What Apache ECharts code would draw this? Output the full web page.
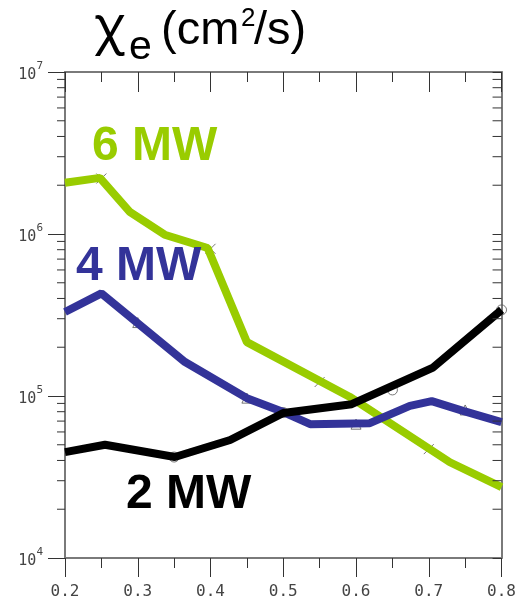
<!DOCTYPE html>
<html>
<head>
<meta charset="utf-8">
<script src="https://cdn.jsdelivr.net/npm/echarts@6/dist/echarts.min.js"></script>
<style>
  html, body { margin: 0; padding: 0; background: #ffffff; }
  #chart { width: 519px; height: 602px; }
</style>
</head>
<body>
<div id="chart"></div>
<script>
// Electron heat diffusivity vs. normalized radius for three heating powers
var seriesNames = ['6 MW', '4 MW', '2 MW'];

// line vertices: [rho, chi_e (cm^2/s)]
var chi6MW = [[0.2, 2.07e6], [0.248, 2.22e6], [0.289, 1.37e6], [0.337, 9.9e5], [0.396, 8.2e5],
              [0.45, 2.15e5], [0.591, 9.9e4], [0.729, 3.9e4], [0.8, 2.74e4]];
var chi4MW = [[0.2, 3.3e5], [0.25, 4.3e5], [0.365, 1.62e5], [0.45, 9.7e4], [0.5, 7.96e4],
              [0.537, 6.7e4], [0.619, 6.8e4], [0.674, 8.7e4], [0.704, 9.3e4], [0.747, 8.1e4], [0.8, 6.9e4]];
var chi2MW = [[0.2, 4.5e4], [0.255, 5.0e4], [0.351, 4.2e4], [0.427, 5.35e4], [0.5, 7.85e4],
              [0.594, 8.9e4], [0.705, 1.49e5], [0.8, 3.4e5]];

// sample markers sitting on each profile
var marks6MW = [[0.25, 2.2e6], [0.4, 8.1e5], [0.55, 1.22e5], [0.7, 4.7e4]];
var marks4MW = [[0.3, 2.84e5], [0.45, 9.7e4], [0.6, 6.7e4], [0.75, 8.2e4]];
var marks2MW = [[0.35, 4.2e4], [0.5, 7.9e4], [0.65, 1.09e5], [0.8, 3.4e5]];

// axis ranges and tick values
var xRange = [0.2, 0.8];
var xStep = 0.1;
var yRange = [1e4, 1e7];
var yMinorTicks = [];
[1e4, 1e5, 1e6].forEach(function (dec) {
  [2, 3, 4, 5, 6, 7, 8, 9].forEach(function (m) { yMinorTicks.push(m * dec); });
});

// title pieces: symbol, subscript, unit, superscript, rest of unit
var titleParts = ['χ', 'e', '(cm', '2', '/s)'];

var colors = ['#99cc00', '#333399', '#000000'];
var tickFont = 'DejaVu Sans Mono';
var axisGrey = '#7a7a7a';
var titleFont = '"Liberation Sans", Arial, sans-serif';
var greekFont = '"Noto Sans", sans-serif';

var chart = echarts.init(document.getElementById('chart'), null, { renderer: 'canvas' });

var crossPath = 'path://M0,0L10,10M10,0L0,10';

function markerSeries(data, symbol) {
  return {
    type: 'scatter',
    data: data,
    symbol: symbol,
    symbolSize: 10,
    itemStyle: { color: 'rgba(0,0,0,0)', borderColor: '#555', borderWidth: 1 },
    z: 1,
    silent: true
  };
}

function titleText(text, x, yMid, size, family) {
  return {
    type: 'text', z: 10, silent: true,
    style: {
      text: text, x: x, y: yMid, fill: '#000',
      font: size + 'px ' + (family || titleFont),
      textAlign: 'left', textVerticalAlign: 'middle'
    }
  };
}

function seriesLabel(text, x, top, color) {
  return {
    type: 'text', left: x, top: top, z: 10, silent: true,
    style: { text: text, fill: color, font: 'bold 48px "Liberation Sans"' }
  };
}

var option = {
  backgroundColor: '#ffffff',
  animation: false,
  grid: { left: 65, right: 17, top: 72, bottom: 44 },
  xAxis: [
    {
      type: 'value', position: 'bottom', min: xRange[0], max: xRange[1], interval: xStep,
      axisLine: { lineStyle: { color: axisGrey, width: 2 } },
      axisTick: { inside: false, length: 19, lineStyle: { color: '#333', width: 1 } },
      minorTick: { show: true, splitNumber: 2, length: 10, lineStyle: { color: '#333', width: 1 } },
      splitLine: { show: false },
      axisLabel: {
        margin: 26, color: '#444', fontFamily: tickFont, fontSize: 16,
        formatter: function (v) { return v.toFixed(1); }
      }
    },
    {
      type: 'value', position: 'top', min: xRange[0], max: xRange[1], interval: xStep,
      axisLine: { lineStyle: { color: axisGrey, width: 2 } },
      axisTick: { inside: true, length: 20, lineStyle: { color: '#333', width: 1 } },
      minorTick: { show: true, splitNumber: 2, length: 10, lineStyle: { color: '#333', width: 1 } },
      splitLine: { show: false },
      axisLabel: { show: false }
    }
  ],
  yAxis: [
    {
      type: 'log', logBase: 10, min: yRange[0], max: yRange[1], position: 'left',
      axisLine: { show: true, lineStyle: { color: axisGrey, width: 2 } },
      axisTick: { show: true, inside: false, length: 17, lineStyle: { color: '#333', width: 1 } },
      splitLine: { show: false },
      axisLabel: {
        margin: 22, color: '#444',
        formatter: function (v) {
          return '{b|10}{s|' + Math.round(Math.log10(v)) + '}';
        },
        rich: {
          b: { fontFamily: tickFont, fontSize: 15, color: '#444', lineHeight: 22, verticalAlign: 'bottom' },
          s: { fontFamily: tickFont, fontSize: 11, color: '#444', verticalAlign: 'top' }
        }
      }
    },
    {
      type: 'log', logBase: 10, min: yRange[0], max: yRange[1], position: 'right',
      axisLine: { show: true, lineStyle: { color: axisGrey, width: 2 } },
      axisTick: { show: true, inside: true, length: 9, lineStyle: { color: '#333', width: 1 } },
      splitLine: { show: false },
      axisLabel: { show: false }
    }
  ],
  series: [
    {
      // logarithmic minor ticks (2..9 per decade) on both vertical axes
      type: 'custom',
      silent: true,
      clip: false,
      z: 3,
      data: yMinorTicks.map(function (v) { return [xRange[0], v]; }),
      renderItem: function (params, api) {
        var v = api.value(1);
        var pl = api.coord([xRange[0], v]);
        var pr = api.coord([xRange[1], v]);
        return {
          type: 'group',
          children: [
            { type: 'line', shape: { x1: pl[0] - 8, y1: pl[1], x2: pl[0], y2: pl[1] },
              style: { stroke: '#333', lineWidth: 1 } },
            { type: 'line', shape: { x1: pr[0] - 9, y1: pr[1], x2: pr[0], y2: pr[1] },
              style: { stroke: '#333', lineWidth: 1 } }
          ]
        };
      }
    },
    markerSeries(marks6MW, crossPath),
    markerSeries(marks4MW, 'triangle'),
    markerSeries(marks2MW, 'circle'),
    {
      name: seriesNames[0], type: 'line', data: chi6MW, symbol: 'none', z: 2,
      lineStyle: { color: colors[0], width: 8 }
    },
    {
      name: seriesNames[1], type: 'line', data: chi4MW, symbol: 'none', z: 2,
      lineStyle: { color: colors[1], width: 8 }
    },
    {
      name: seriesNames[2], type: 'line', data: chi2MW, symbol: 'none', z: 2,
      lineStyle: { color: colors[2], width: 8 }
    }
  ],
  graphic: [
    titleText(titleParts[0], 94, 28, 52, greekFont),
    titleText(titleParts[1], 129, 48, 41),
    titleText(titleParts[2], 161, 31, 47),
    titleText(titleParts[3], 241, 19, 26),
    titleText(titleParts[4], 254, 31, 47),
    seriesLabel(seriesNames[0], 92, 123, colors[0]),
    seriesLabel(seriesNames[1], 76, 243, colors[1]),
    seriesLabel(seriesNames[2], 126, 471, colors[2])
  ]
};

chart.setOption(option);
</script>
</body>
</html>
